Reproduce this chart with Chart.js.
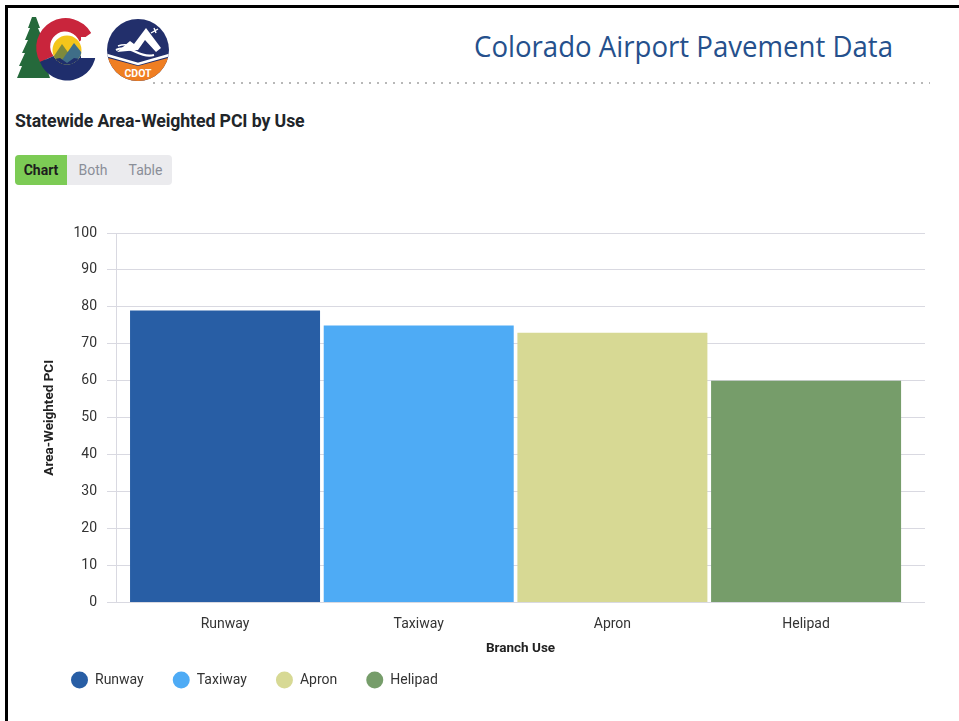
<!DOCTYPE html>
<html>
<head>
<meta charset="utf-8">
<script src="https://cdn.jsdelivr.net/npm/chart.js@4/dist/chart.umd.min.js"></script>
<style>
  html, body { margin: 0; padding: 0; background: #fff; }
  body { width: 959px; height: 721px; position: relative; overflow: hidden; font-family: Roboto, "Noto Sans", sans-serif; }
  #frame { position: absolute; left: 5px; top: 5px; width: 960px; height: 720px; border-top: 3px solid #000; border-left: 3px solid #000; box-sizing: border-box; }
  #logos { position: absolute; left: 0; top: 0; }
  #hdr { position: absolute; left: 0; top: 0; }
  #dots { position: absolute; left: 150px; top: 82px; width: 780px; height: 2px;
          background-image: radial-gradient(circle, #b8b8b8 0.9px, transparent 1.2px); background-size: 8px 2px; background-repeat: repeat-x; }
  #subtitle { position: absolute; left: 15px; top: 111px; font-size: 17.7px; font-weight: 700; color: #212529; letter-spacing: -0.1px; white-space: nowrap; }
  #toggle { position: absolute; left: 15px; top: 155px; width: 157px; height: 30px; background: #ebebee; border-radius: 4px; overflow: hidden; font-size: 14px; }
  #toggle span { position: absolute; top: 0; height: 30px; line-height: 30px; text-align: center; color: #8a8e98; }
  #toggle .on { left: 0; width: 52px; background: #7ccb55; color: #1d1d1d; font-weight: 700; }
  #wrap { position: absolute; left: 0; top: 0; width: 959px; height: 721px; }
</style>
</head>
<body>
<div id="frame"></div>
<svg id="logos" width="180" height="90" viewBox="0 0 180 90">
  <defs>
    <clipPath id="inner"><circle cx="67" cy="50" r="14.5"/></clipPath>
    <clipPath id="cdotc"><circle cx="138" cy="50" r="31"/></clipPath>
  </defs>
  <polygon fill="#25693b" points="32,17 28,28 30,28 25,40 28,40 22,53 25,53 19,66 22,66 17,78 50,78 46,66 48,66 43,53 45,53 41,40 43,40 38,28 40,28 36,17"/>
  <path fill="#c9253c" d="M 91.2 33.0 A 29 29 0 1 0 40.0 62.0 L 53.6 56.0 A 15 15 0 1 1 79.3 41.4 Z"/>
  <path fill="#1f2e6c" d="M 40.0 62.0 A 29 29 0 0 0 96 50 L 82 50 A 15 15 0 0 1 53.6 56.0 Z"/>
  <rect x="81" y="37" width="20" height="21" fill="#fff"/>
  <g clip-path="url(#inner)">
    <rect x="50" y="33" width="35" height="35" fill="#f4c51b"/>
    <polygon fill="#7d8a3c" points="50,62 62,44 72,58 72,70 50,70"/>
    <polygon fill="#3f6e88" points="62,60 74,43 86,58 86,70 62,70"/>
    <polygon fill="#1f2e6c" points="50,60 60,58 67,63 74,58 86,60 86,70 50,70"/>
  </g>
  <circle cx="138" cy="50" r="31" fill="#222f6b"/>
  <g clip-path="url(#cdotc)">
    <polygon fill="#ef7e22" points="100,56 138,66 176,56 176,90 100,90"/>
    <polyline fill="none" stroke="#fff" stroke-width="2.5" points="103,54 138,64 173,54"/>
    <polygon fill="#fff" points="117,52 130,41 134,44 146,28 161,48 156,52 145,40 138,50"/>
    <path d="M 116 50 Q 124 46 136 52 Q 146 57 154 55" fill="none" stroke="#fff" stroke-width="2.2"/>
    <path d="M 118 46 Q 126 43 134 47" fill="none" stroke="#fff" stroke-width="1.6"/>
    <path d="M 151 33 L 158 29 M 154 28 L 156 33" stroke="#fff" stroke-width="1.4"/>
  </g>
  <text x="138" y="76.5" text-anchor="middle" font-family="Roboto, sans-serif" font-weight="700" font-size="10.5" fill="#fff">CDOT</text>
</svg>
<svg id="hdr" width="959" height="90" viewBox="0 0 959 90">
  <text x="474" y="57" font-family="'Open Sans', sans-serif" font-size="30" fill="#25508c" textLength="419" lengthAdjust="spacingAndGlyphs">Colorado Airport Pavement Data</text>
</svg>
<div id="dots"></div>
<div id="subtitle">Statewide Area-Weighted PCI by Use</div>
<div id="toggle"><span class="on">Chart</span><span style="left:52px;width:52px;">Both</span><span style="left:104px;width:53px;">Table</span></div>
<div id="wrap"><canvas id="chart" width="959" height="721"></canvas></div>
<script>
// ---- data ----
const categories = ['Runway', 'Taxiway', 'Apron', 'Helipad'];
const pciValues = [79, 75, 73, 60];
const yTickValues = [0, 10, 20, 30, 40, 50, 60, 70, 80, 90, 100];
const seriesColors = ['#285ea5', '#4eabf5', '#d7d994', '#769d6a'];
const xAxisTitle = 'Branch Use';
const yAxisTitle = 'Area-Weighted PCI';

Chart.defaults.font.family = 'Roboto, "Noto Sans", sans-serif';
Chart.defaults.color = '#333';

const gridColor = '#d9d9e1';

const datasets = categories.map((name, i) => ({
  label: name,
  data: [{ x: i, y: pciValues[i] }],
  backgroundColor: seriesColors[i],
  borderWidth: 0,
  grouped: false,
  categoryPercentage: 0.981,
  barPercentage: 1
}));

new Chart(document.getElementById('chart'), {
  type: 'bar',
  data: { datasets },
  options: {
    responsive: false,
    animation: false,
    devicePixelRatio: 1,
    layout: { padding: { left: 42, right: 34, top: 233, bottom: 24 } },
    plugins: {
      tooltip: { enabled: false },
      legend: {
        position: 'bottom',
        align: 'start',
        labels: {
          usePointStyle: true,
          pointStyle: 'circle',
          pointStyleWidth: 17,
          boxHeight: 12,
          padding: 29,
          color: '#333',
          font: { size: 14 }
        }
      }
    },
    scales: {
      x: {
        type: 'linear',
        offset: false,
        bounds: 'data',
        min: -0.563,
        max: 3.614,
        grid: { display: false, drawTicks: false, offset: false },
        border: { display: false },
        afterBuildTicks: (scale) => { scale.ticks = categories.map((_, i) => ({ value: i })); },
        ticks: {
          padding: 13.6,
          color: '#333',
          font: { size: 14 },
          autoSkip: false,
          maxRotation: 0,
          callback: (v) => categories[v]
        },
        title: {
          display: true,
          text: xAxisTitle,
          color: '#222',
          font: { size: 13.5, weight: 'bold' },
          padding: { top: -5.6, bottom: -13.1 }
        }
      },
      y: {
        min: 0,
        max: 100,
        afterBuildTicks: (scale) => { scale.ticks = yTickValues.map(v => ({ value: v })); },
        afterFit: (scale) => { scale.width = 74; },
        grid: { color: gridColor, lineWidth: 1, tickLength: 9, tickColor: gridColor },
        border: { display: true, color: gridColor, width: 1 },
        ticks: { padding: 10, color: '#333', font: { size: 14 } },
        title: {
          display: true,
          text: yAxisTitle,
          color: '#222',
          font: { size: 13.5, weight: 'bold' },
          padding: { top: 0, bottom: 4 }
        }
      }
    }
  }
});
</script>
</body>
</html>
